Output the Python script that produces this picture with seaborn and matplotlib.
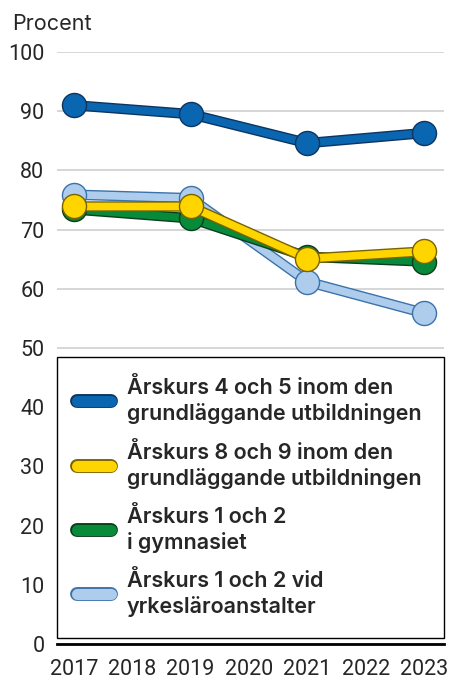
import pandas as pd
import matplotlib.pyplot as plt
import matplotlib.patheffects as pe
from matplotlib.lines import Line2D
import seaborn as sns

# data
years = [2017, 2019, 2021, 2023]
series = [
    "Årskurs 4 och 5 inom den\ngrundläggande utbildningen",
    "Årskurs 8 och 9 inom den\ngrundläggande utbildningen",
    "Årskurs 1 och 2\ni gymnasiet",
    "Årskurs 1 och 2 vid\nyrkesläroanstalter",
]
ak_4_5 = [91.0, 89.5, 84.6, 86.3]
ak_8_9 = [73.9, 73.9, 65.1, 66.3]
gymnasiet = [73.4, 71.9, 65.4, 64.6]
yrkes = [75.9, 75.3, 61.2, 55.9]

fills = ["#0a66b0", "#ffd500", "#078a3a", "#aecdec"]
edges = ["#0d3560", "#7a6200", "#0b3d1c", "#3b72aa"]
zorders = [8, 6, 4, 2]

df = pd.DataFrame({
    "year": years * 4,
    "value": ak_4_5 + ak_8_9 + gymnasiet + yrkes,
    "series": [s for s in series for _ in years],
})

sns.set_style("white")
plt.rcParams["font.family"] = ["Roboto", "DejaVu Sans"]

fig = plt.figure(figsize=(4.52, 6.79), dpi=100)
ax = fig.add_axes([0.126, 0.0515, 0.856, 0.872])

for s, fc, ec, z in zip(series, fills, edges, zorders):
    sub = df[df["series"] == s]
    sns.lineplot(data=sub, x="year", y="value", ax=ax, color=fc,
                 linewidth=5.5, legend=False, zorder=z)
    ax.lines[-1].set_path_effects([pe.Stroke(linewidth=7.5, foreground=ec),
                                   pe.Normal()])
    sns.scatterplot(data=sub, x="year", y="value", ax=ax, color=fc, s=300,
                    edgecolor=ec, linewidth=1, legend=False, zorder=z + 1)

ax.set_xlim(2016.71, 2023.34)
ax.set_ylim(0, 100)
ax.set_xticks(range(2017, 2024))
ax.set_yticks(range(0, 101, 10))
ax.set_xlabel("")
ax.set_ylabel("")
ax.grid(axis="y", color="#cfcfcf", linewidth=1.2, zorder=0)
ax.set_axisbelow(True)
for side in ["top", "right", "left"]:
    ax.spines[side].set_visible(False)
ax.spines["bottom"].set_linewidth(2)
ax.spines["bottom"].set_color("black")
ax.spines["bottom"].set_zorder(10)
ax.tick_params(axis="x", length=6, width=2, color="black", labelsize=15.5, pad=5)
ax.tick_params(axis="y", length=0, labelsize=15.5, pad=9)

fig.text(0.027, 0.964, "Procent", fontsize=15.5, ha="left", va="center",
         family=["Inter", "DejaVu Sans"])

handles = []
for fc, ec in zip(fills, edges):
    h = Line2D([0], [0], color=fc, linewidth=8, solid_capstyle="round")
    h.set_path_effects([pe.Stroke(linewidth=10, foreground=ec,
                                  capstyle="round"), pe.Normal()])
    handles.append(h)
leg = ax.legend(handles, series, loc="upper left",
                bbox_to_anchor=(0, 0.485, 1, 0), mode="expand",
                borderaxespad=0, frameon=True, fancybox=False,
                edgecolor="black", framealpha=1,
                prop={"family": ["Inter", "DejaVu Sans"], "size": 15.5,
                      "weight": "semibold"},
                handlelength=1.55, handletextpad=0.75, labelspacing=0.8,
                borderpad=0.95)
for t in leg.get_texts():
    t.set_linespacing(1.3)
leg.get_frame().set_linewidth(1)
leg.set_zorder(20)

fig.savefig("out.png", dpi=100)
